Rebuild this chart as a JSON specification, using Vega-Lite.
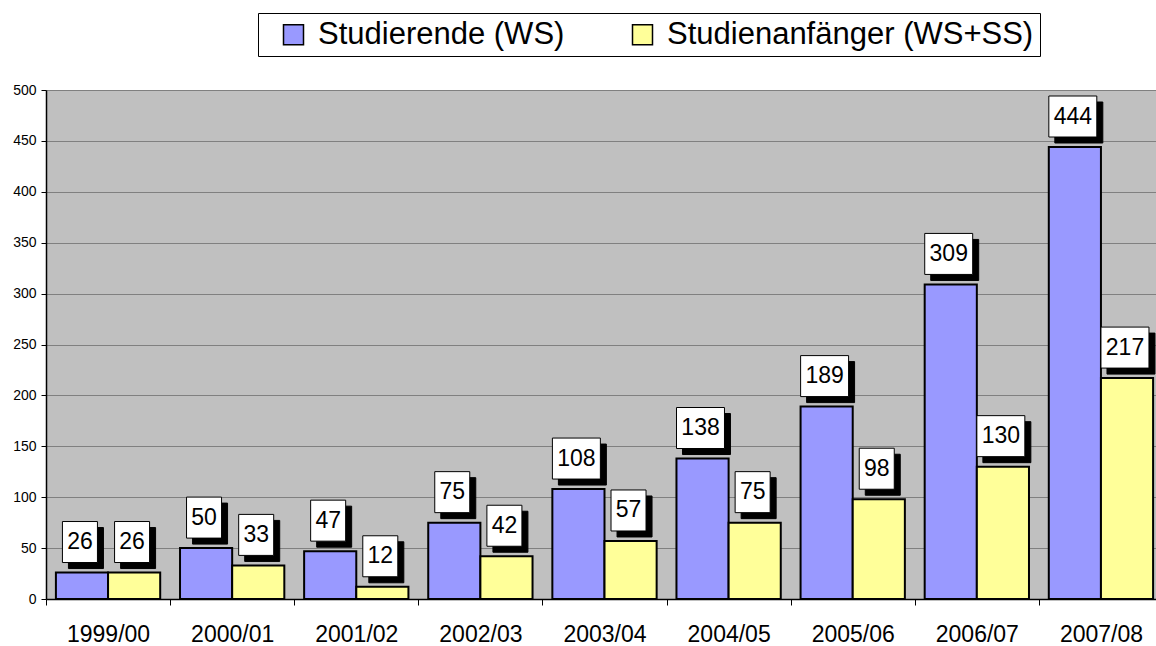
{
  "$schema": "https://vega.github.io/schema/vega-lite/v6.json",
  "autosize": {"type": "none"},
  "width": 1110,
  "height": 509,
  "padding": {"left": 46, "top": 90, "right": 0, "bottom": 47},
  "background": "white",
  "config": {
    "view": {"fill": "#C0C0C0", "stroke": null},
    "font": "Liberation Sans, Arial, sans-serif"
  },
  "data": {
    "values": [
      {"year": "1999/00", "series": "Studierende (WS)", "v": 26},
      {"year": "1999/00", "series": "Studienanfänger (WS+SS)", "v": 26},
      {"year": "2000/01", "series": "Studierende (WS)", "v": 50},
      {"year": "2000/01", "series": "Studienanfänger (WS+SS)", "v": 33},
      {"year": "2001/02", "series": "Studierende (WS)", "v": 47},
      {"year": "2001/02", "series": "Studienanfänger (WS+SS)", "v": 12},
      {"year": "2002/03", "series": "Studierende (WS)", "v": 75},
      {"year": "2002/03", "series": "Studienanfänger (WS+SS)", "v": 42},
      {"year": "2003/04", "series": "Studierende (WS)", "v": 108},
      {"year": "2003/04", "series": "Studienanfänger (WS+SS)", "v": 57},
      {"year": "2004/05", "series": "Studierende (WS)", "v": 138},
      {"year": "2004/05", "series": "Studienanfänger (WS+SS)", "v": 75},
      {"year": "2005/06", "series": "Studierende (WS)", "v": 189},
      {"year": "2005/06", "series": "Studienanfänger (WS+SS)", "v": 98},
      {"year": "2006/07", "series": "Studierende (WS)", "v": 309},
      {"year": "2006/07", "series": "Studienanfänger (WS+SS)", "v": 130},
      {"year": "2007/08", "series": "Studierende (WS)", "v": 444},
      {"year": "2007/08", "series": "Studienanfänger (WS+SS)", "v": 217}
    ]
  },
  "encoding": {
    "x": {
      "field": "year", "type": "nominal", "sort": null,
      "scale": {"paddingInner": 0, "paddingOuter": 0, "range": [0, 1117]},
      "axis": {
        "title": null, "labelAngle": 0, "tickBand": "extent",
        "domainColor": "black", "domainWidth": 1.5,
        "tickColor": "black", "tickSize": 6, "tickWidth": 1,
        "labelFontSize": 23, "labelColor": "black", "labelPadding": 18,
        "labelFont": "Liberation Sans, Arial, sans-serif"
      }
    },
    "xOffset": {
      "field": "series", "type": "nominal",
      "sort": ["Studierende (WS)", "Studienanfänger (WS+SS)"],
      "scale": {"paddingInner": 0, "paddingOuter": 0.19}
    },
    "y": {
      "field": "v", "type": "quantitative",
      "scale": {"domain": [0, 500], "nice": false},
      "axis": {
        "title": null, "values": [0, 50, 100, 150, 200, 250, 300, 350, 400, 450, 500],
        "grid": true, "gridColor": "#808080", "gridWidth": 1,
        "domainColor": "black", "domainWidth": 1.5,
        "tickColor": "black", "tickSize": 5, "tickWidth": 1,
        "labelFontSize": 14, "labelColor": "black", "labelPadding": 5,
        "labelFont": "Liberation Sans, Arial, sans-serif"
      }
    }
  },
  "layer": [
    {
      "mark": {"type": "bar", "stroke": "black", "strokeWidth": 2},
      "encoding": {
        "color": {
          "field": "series", "type": "nominal",
          "scale": {"domain": ["Studierende (WS)", "Studienanfänger (WS+SS)"], "range": ["#9999FF", "#FFFF99"]},
          "legend": {
            "orient": "none", "legendX": 212, "legendY": -77,
            "direction": "horizontal",
            "title": " ", "titleOrient": "left", "titlePadding": 14, "titleFontSize": 31,
            "symbolType": "square", "symbolSize": 400,
            "symbolStrokeColor": "black", "symbolStrokeWidth": 1.5,
            "labelFontSize": 31, "labelColor": "black", "labelLimit": 800,
            "labelFont": "Liberation Sans, Arial, sans-serif",
            "labelOffset": 9, "columnPadding": 62,
            "padding": 6, "strokeColor": "black", "fillColor": "white"
          }
        }
      }
    },
    {
      "mark": {"type": "point", "filled": true, "fill": "black", "stroke": "black", "strokeWidth": 1, "opacity": 1, "size": 1681},
      "encoding": {
        "shape": {
          "condition": {"test": "datum.v >= 100", "value": "M-0.977,-2.195H1.363V-0.195H-0.977Z"},
          "value": "M-0.66,-2.195H1.047V-0.195H-0.66Z"
        }
      }
    },
    {
      "mark": {"type": "point", "filled": true, "fill": "white", "stroke": "black", "strokeWidth": 1, "opacity": 1, "size": 1681},
      "encoding": {
        "shape": {
          "condition": {"test": "datum.v >= 100", "value": "M-1.27,-2.488H1.07V-0.488H-1.27Z"},
          "value": "M-0.954,-2.488H0.754V-0.488H-0.954Z"
        }
      }
    },
    {
      "mark": {"type": "text", "dx": -2, "dy": -30.5, "baseline": "middle", "align": "center", "fontSize": 23, "color": "black", "font": "Liberation Sans, Arial, sans-serif"},
      "encoding": {"text": {"field": "v", "type": "quantitative"}}
    }
  ]
}
